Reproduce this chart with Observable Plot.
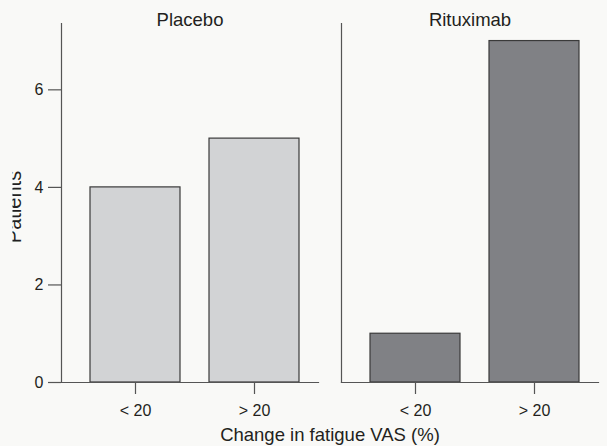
<!DOCTYPE html>
<html>
<head>
<meta charset="utf-8">
<script src="https://cdn.jsdelivr.net/npm/d3@7"></script>
<script src="https://cdn.jsdelivr.net/npm/@observablehq/plot@0.6"></script>
<style>
  html, body { margin: 0; padding: 0; background: #f9f9f7; }
  #chart svg { display: block; }
</style>
</head>
<body>
<div id="chart"></div>
<script>
// Patients by change in fatigue VAS, per treatment group
const groups = ["Placebo", "Rituximab"];
const changeCategories = ["< 20", "> 20"];
const placeboPatients = [4, 5];
const rituximabPatients = [1, 7];
const yTicks = [0, 2, 4, 6];
const groupFills = ["#d2d3d5", "#808185"];

const rows = [
  ...changeCategories.map((c, i) => ({group: groups[0], change: c, patients: placeboPatients[i]})),
  ...changeCategories.map((c, i) => ({group: groups[1], change: c, patients: rituximabPatients[i]}))
];

const textColor = "#231f20";
const axisColor = "#555";

const chart = Plot.plot({
  width: 607,
  height: 446,
  marginTop: 23,
  marginBottom: 64,
  marginLeft: 61,
  marginRight: 9,
  style: {background: "transparent", fontFamily: "'Liberation Sans', Arial, sans-serif", fontSize: "16px", color: textColor},
  fx: {domain: groups, paddingInner: 23 / 280, paddingOuter: 0, label: null},
  x: {domain: changeCategories, paddingInner: 0.245, paddingOuter: 0, insetLeft: 28.3, insetRight: 19.3, label: null},
  y: {domain: [0, 7.36], label: null},
  color: {domain: groups, range: groupFills},
  marks: [
    Plot.barY(rows, {fx: "group", x: "change", y: "patients", fill: "group", stroke: "#3a3a3a", strokeWidth: 1.2}),
    Plot.frame({anchor: "left", stroke: axisColor, strokeWidth: 1.2}),
    Plot.frame({anchor: "bottom", stroke: axisColor, strokeWidth: 1.2}),
    Plot.axisY({ticks: yTicks, tickSize: 13, tickPadding: 5, stroke: axisColor, strokeOpacity: 1, strokeWidth: 1.2, fill: textColor, fontSize: 16, label: null}),
    Plot.axisY({ticks: [], tickSize: 0, fill: textColor, fontSize: 20,
      label: "Patients", labelArrow: "none", labelAnchor: "center", labelOffset: 55}),
    Plot.axisX({tickSize: 12, tickPadding: 10, stroke: axisColor, strokeOpacity: 1, strokeWidth: 1.2, fill: textColor, fontSize: 16, label: null}),
    Plot.axisFx({anchor: "top", tickSize: 0, tickPadding: 0, dy: 2, fill: textColor, fontSize: 18.5, label: null}),
    Plot.axisFx({anchor: "bottom", ticks: [], tickSize: 0, fill: textColor, fontSize: 18.5,
      label: "Change in fatigue VAS (%)", labelAnchor: "center", labelOffset: 58})
  ]
});

document.getElementById("chart").append(chart);

// The y-axis title is trimmed along the left edge of the figure
const yTitle = Array.from(chart.querySelectorAll("text")).find((t) => t.textContent.trim() === "Patients");
if (yTitle) {
  const ns = "http://www.w3.org/2000/svg";
  const parent = yTitle.parentNode;
  const m = parent.getCTM() || {e: 0, f: 0};
  const defs = document.createElementNS(ns, "defs");
  const clip = document.createElementNS(ns, "clipPath");
  clip.setAttribute("id", "ytitle-clip");
  clip.setAttribute("clipPathUnits", "userSpaceOnUse");
  const rect = document.createElementNS(ns, "rect");
  rect.setAttribute("x", 12.5 - m.e);
  rect.setAttribute("y", -m.f - 20);
  rect.setAttribute("width", 700);
  rect.setAttribute("height", 500);
  clip.appendChild(rect);
  defs.appendChild(clip);
  chart.insertBefore(defs, chart.firstChild);
  const wrap = document.createElementNS(ns, "g");
  wrap.setAttribute("transform", "translate(0,4)");
  parent.insertBefore(wrap, yTitle);
  wrap.appendChild(yTitle);
  const outer = document.createElementNS(ns, "g");
  outer.setAttribute("clip-path", "url(#ytitle-clip)");
  parent.insertBefore(outer, wrap);
  outer.appendChild(wrap);
}
</script>
</body>
</html>
